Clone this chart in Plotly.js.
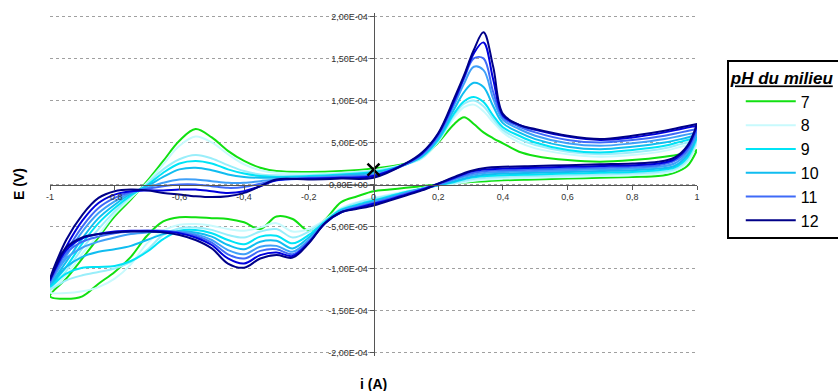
<!DOCTYPE html>
<html>
<head>
<meta charset="utf-8">
<script src="https://cdn.plot.ly/plotly-3.0.1.min.js"></script>
<style>
html,body{margin:0;padding:0;background:#fff;}
#chart{width:838px;height:391px;}
</style>
</head>
<body>
<div id="chart"></div>
<script>
// Potential grid of the forward (upper) and return (lower) scans
const xUpper = [-1, -0.95, -0.9, -0.85, -0.8, -0.75, -0.7, -0.65, -0.6, -0.55, -0.5, -0.45, -0.4, -0.35, -0.3, -0.2, -0.1, 0, 0.1, 0.15, 0.2, 0.25, 0.28, 0.31, 0.34, 0.37, 0.4, 0.45, 0.5, 0.6, 0.7, 0.8, 0.9, 0.95, 1];
const xLower = [1, 0.97, 0.93, 0.88, 0.8, 0.7, 0.6, 0.5, 0.4, 0.35, 0.3, 0.25, 0.2, 0.15, 0.1, 0.05, 0, -0.05, -0.1, -0.15, -0.2, -0.25, -0.3, -0.35, -0.4, -0.45, -0.5, -0.55, -0.6, -0.65, -0.7, -0.75, -0.8, -0.85, -0.9, -0.95, -1];

// Values in units of 1e-5
const UNIT = 1e-5;

const pH7Up   = [-13.3, -11.2, -8.8, -6.3, -3.8, -1.8, 0.4, 2.8, 5.2, 6.6, 5.6, 4.0, 2.8, 2.0, 1.6, 1.5, 1.6, 1.9, 2.5, 3.2, 5.0, 7.2, 8.0, 7.2, 6.2, 5.5, 4.9, 3.9, 3.4, 2.9, 2.7, 2.9, 3.3, 3.6, 4.1];
const pH7Down = [4.1, 2.2, 1.4, 1.0, 0.9, 0.8, 0.7, 0.6, 0.5, 0.4, 0.3, 0.15, 0.0, -0.2, -0.4, -0.6, -0.8, -1.4, -2.1, -4.2, -5.5, -4.1, -3.8, -5.3, -4.5, -4.1, -4.0, -3.9, -3.9, -4.4, -6.1, -8.6, -10.4, -11.8, -13.3, -13.6, -13.3];

const pH8Up   = [-12.8, -10.8, -8.2, -6.0, -3.5, -1.6, 0.2, 2.4, 4.6, 5.7, 5.0, 3.6, 2.4, 1.7, 1.4, 1.3, 1.4, 1.7, 2.4, 3.1, 5.1, 8.0, 9.2, 9.5, 8.7, 7.4, 6.2, 5.0, 4.3, 3.6, 3.3, 3.5, 4.0, 4.5, 5.0];
const pH8Down = [5.0, 2.6, 1.6, 1.3, 1.1, 1.0, 0.9, 0.8, 0.7, 0.6, 0.4, 0.1, -0.1, -0.4, -0.8, -1.2, -1.6, -2.1, -2.8, -4.2, -5.3, -5.6, -4.6, -5.1, -5.5, -5.3, -4.9, -4.7, -4.8, -5.5, -7.0, -9.5, -11.2, -12.2, -12.7, -12.9, -12.8];

const pHxaUp   = [-12.5, -10.3, -7.6, -5.3, -3.2, -1.4, 0.1, 1.8, 3.0, 3.5, 3.1, 2.3, 1.6, 1.2, 1.1, 1.1, 1.3, 1.6, 2.4, 3.2, 5.2, 8.3, 9.6, 10.0, 9.3, 7.8, 6.5, 5.4, 4.7, 3.9, 3.6, 3.8, 4.3, 4.8, 5.3];
const pHxaDown = [5.3, 2.9, 1.8, 1.5, 1.3, 1.2, 1.1, 1.0, 0.9, 0.8, 0.6, 0.2, -0.1, -0.5, -0.9, -1.3, -1.7, -2.2, -2.9, -4.3, -5.6, -6.3, -5.3, -5.6, -6.3, -6.0, -5.4, -5.1, -5.2, -6.0, -7.8, -9.2, -10.0, -10.4, -10.8, -11.4, -12.5];

const pH9Up   = [-12.2, -9.8, -7.0, -4.6, -2.8, -1.3, -0.1, 1.4, 2.5, 2.8, 2.5, 1.8, 1.3, 1.0, 0.9, 1.0, 1.2, 1.5, 2.4, 3.3, 5.3, 8.5, 9.9, 10.4, 9.8, 8.2, 6.8, 5.8, 5.0, 4.1, 3.8, 4.1, 4.6, 5.1, 5.6];
const pH9Down = [5.6, 3.2, 2.0, 1.7, 1.5, 1.4, 1.3, 1.2, 1.1, 1.0, 0.8, 0.3, -0.1, -0.5, -0.9, -1.4, -1.9, -2.4, -3.0, -4.4, -6.0, -7.0, -6.1, -6.2, -7.1, -6.6, -5.8, -5.4, -5.5, -6.5, -8.0, -9.1, -9.7, -9.8, -9.9, -10.6, -12.2];

const pH10Up   = [-12.0, -9.2, -6.4, -4.0, -2.4, -1.1, -0.2, 0.9, 1.8, 2.0, 1.7, 1.2, 0.9, 0.8, 0.8, 0.9, 1.1, 1.4, 2.4, 3.4, 5.5, 9.0, 11.0, 12.1, 11.6, 9.3, 7.3, 6.2, 5.4, 4.5, 4.2, 4.5, 5.0, 5.4, 5.9];
const pH10Down = [5.9, 3.5, 2.2, 1.9, 1.7, 1.6, 1.5, 1.4, 1.3, 1.2, 0.9, 0.4, -0.1, -0.5, -1.0, -1.5, -2.0, -2.5, -3.1, -4.5, -6.3, -7.6, -6.7, -6.8, -7.7, -7.2, -6.2, -5.7, -5.6, -5.9, -6.6, -7.3, -7.7, -8.0, -8.6, -9.8, -12.0];

const pHxbUp   = [-11.8, -8.5, -5.6, -3.4, -2.0, -1.0, -0.4, 0.2, 0.6, 0.6, 0.4, 0.2, 0.2, 0.4, 0.6, 0.8, 1.0, 1.2, 2.4, 3.5, 5.7, 9.5, 12.0, 14.0, 13.6, 10.2, 7.7, 6.6, 5.8, 4.9, 4.6, 4.9, 5.4, 5.8, 6.2];
const pHxbDown = [6.2, 3.8, 2.5, 2.1, 1.9, 1.8, 1.7, 1.6, 1.5, 1.4, 1.1, 0.6, 0.0, -0.5, -1.0, -1.6, -2.1, -2.6, -3.2, -4.6, -6.6, -8.0, -7.3, -7.4, -8.3, -7.8, -6.6, -5.9, -5.6, -5.6, -5.7, -5.9, -6.3, -6.8, -7.5, -8.8, -11.8];

const pH11Up   = [-11.6, -8.0, -5.0, -2.8, -1.6, -0.9, -0.5, -0.2, 0.0, 0.0, -0.2, -0.4, -0.3, 0.1, 0.5, 0.7, 0.9, 1.1, 2.4, 3.6, 5.8, 9.8, 12.6, 15.0, 15.0, 11.0, 8.0, 6.9, 6.2, 5.3, 5.0, 5.3, 5.8, 6.2, 6.6];
const pH11Down = [6.6, 4.1, 2.8, 2.3, 2.1, 2.0, 1.9, 1.8, 1.7, 1.6, 1.3, 0.7, 0.0, -0.6, -1.1, -1.7, -2.2, -2.7, -3.3, -4.6, -6.8, -8.3, -7.7, -7.9, -8.8, -8.3, -6.9, -6.1, -5.7, -5.5, -5.5, -5.6, -5.8, -6.2, -6.8, -8.2, -11.6];

const pHxcUp   = [-11.4, -7.4, -4.3, -2.2, -1.2, -0.8, -0.7, -0.7, -0.6, -0.6, -0.8, -1.0, -0.8, -0.2, 0.5, 0.7, 0.8, 1.0, 2.5, 3.7, 6.0, 10.0, 12.8, 15.6, 16.9, 12.5, 8.2, 7.1, 6.5, 5.7, 5.3, 5.6, 6.2, 6.6, 7.0];
const pHxcDown = [7.0, 4.4, 3.0, 2.5, 2.3, 2.2, 2.1, 2.0, 1.9, 1.8, 1.5, 0.8, 0.1, -0.6, -1.2, -1.8, -2.3, -2.8, -3.3, -4.6, -6.9, -8.5, -8.1, -8.4, -9.4, -8.8, -7.2, -6.3, -5.8, -5.6, -5.5, -5.5, -5.6, -5.9, -6.4, -7.8, -11.4];

const pH12Up   = [-11.2, -6.6, -3.6, -1.6, -0.8, -0.6, -0.7, -1.0, -1.2, -1.4, -1.5, -1.4, -1.0, -0.2, 0.6, 0.6, 0.7, 0.8, 2.5, 3.8, 6.1, 10.3, 13.0, 16.0, 18.1, 14.0, 8.4, 7.1, 6.6, 5.8, 5.4, 5.8, 6.4, 6.8, 7.2];
const pH12Down = [7.2, 4.6, 3.2, 2.7, 2.5, 2.4, 2.3, 2.2, 2.1, 2.0, 1.6, 0.9, 0.1, -0.7, -1.3, -1.9, -2.5, -2.9, -3.3, -4.6, -7.0, -8.7, -8.4, -8.8, -9.9, -9.4, -7.6, -6.6, -6.0, -5.7, -5.6, -5.6, -5.7, -5.9, -6.3, -7.5, -11.2];

const seriesNames  = ['7', '8', '', '9', '10', '', '11', '', '12'];
const seriesUp     = [pH7Up, pH8Up, pHxaUp, pH9Up, pH10Up, pHxbUp, pH11Up, pHxcUp, pH12Up];
const seriesDown   = [pH7Down, pH8Down, pHxaDown, pH9Down, pH10Down, pHxbDown, pH11Down, pHxcDown, pH12Down];
const seriesColors = ['#11e011', '#c8fafd', '#99eefa', '#00e4f6', '#10bdf0', '#3fa0f8', '#3f6af8', '#0000dd', '#000088'];

// Marked point
const markX = [0];
const markY = [1.77e-5];

// Tick labels
const xTickVals = [-1, -0.8, -0.6, -0.4, -0.2, 0, 0.2, 0.4, 0.6, 0.8, 1];
const xTickText = ['-1', '-0,8', '-0,6', '-0,4', '-0,2', '0', '0,2', '0,4', '0,6', '0,8', '1'];
const yTickVals = [-2e-4, -1.5e-4, -1e-4, -5e-5, 0, 5e-5, 1e-4, 1.5e-4, 2e-4];
const yTickText = ['-2,00E-04', '-1,50E-04', '-1,00E-04', '-5,00E-05', '0,00E+00', '5,00E-05', '1,00E-04', '1,50E-04', '2,00E-04'];

const FONT = 'Arial, "Liberation Sans", sans-serif';

const traces = seriesUp.map((up, i) => ({
  type: 'scatter',
  mode: 'lines',
  name: seriesNames[i],
  showlegend: seriesNames[i] !== '',
  x: xUpper.concat(xLower),
  y: up.concat(seriesDown[i]).map(v => v * UNIT),
  line: {color: seriesColors[i], width: 2, shape: 'spline', smoothing: 1}
}));

traces.push({
  type: 'scatter', mode: 'markers', showlegend: false,
  x: markX, y: markY,
  marker: {symbol: 'x-thin', size: 12, color: '#000', line: {color: '#000', width: 2.5}}
});

const layout = {
  width: 838, height: 391,
  margin: {l: 50, r: 141, t: 12.6, b: 34.6, autoexpand: false},
  paper_bgcolor: '#fff', plot_bgcolor: '#fff',
  font: {family: FONT, color: '#333'},
  showlegend: true,
  xaxis: {
    range: [-1, 1], anchor: 'free', position: 0.5,
    showgrid: false, zeroline: false,
    showline: true, linecolor: '#555', linewidth: 1,
    ticks: 'outside', ticklen: 4, tickcolor: '#555',
    tickvals: xTickVals, ticktext: xTickText,
    tickfont: {size: 9, color: '#333', family: FONT}
  },
  yaxis: {
    range: [-2.04e-4, 2.04e-4], anchor: 'free', position: 0.5,
    showgrid: true, gridcolor: '#a0a0a0', gridwidth: 1.5, griddash: 'dot',
    zeroline: false,
    showline: true, linecolor: '#555', linewidth: 1,
    ticks: 'outside', ticklen: 4, tickcolor: '#555',
    tickvals: yTickVals, ticktext: yTickText,
    tickfont: {size: 9, color: '#333', family: FONT}
  },
  legend: {
    x: 1.046, y: 0.862, xanchor: 'left', yanchor: 'top',
    bordercolor: '#000', borderwidth: 2, bgcolor: '#fff',
    font: {size: 16, color: '#000', family: FONT},
    title: {text: '<b><i><u>pH du milieu</u></i></b>\u00a0\u00a0\u00a0\u00a0', font: {size: 17, color: '#000', family: FONT}},
    indentation: 12,
    itemwidth: 50, tracegroupgap: 0
  },
  annotations: [
    {text: '<b>E (V)</b>', xref: 'paper', yref: 'paper', x: -0.064, y: 0.5,
     textangle: -90, showarrow: false, font: {size: 14, color: '#000', family: FONT}},
    {text: '<b>i (A)</b>', xref: 'paper', yref: 'paper', x: 0.5, y: -0.11,
     showarrow: false, font: {size: 14, color: '#000', family: FONT}}
  ]
};

Plotly.newPlot('chart', traces, layout, {staticPlot: true, displayModeBar: false});
</script>
</body>
</html>
